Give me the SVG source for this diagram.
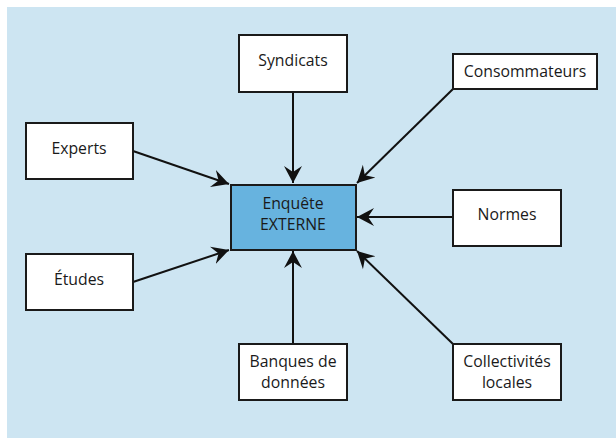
<svg xmlns="http://www.w3.org/2000/svg" width="616" height="439" viewBox="0 0 616 439">
<style>
.box{fill:#ffffff;stroke:#1a1a1a;stroke-width:2}
.main{fill:#67b3df;stroke:#1a1a1a;stroke-width:2}
.lbl{font-family:"Open Sans","Liberation Sans",sans-serif;font-size:15.8px;fill:#1a1a1a;text-anchor:middle}
.edge{stroke:#111;stroke-width:2;fill:none;marker-end:url(#arr)}
</style>
<defs>
<marker id="arr" markerUnits="userSpaceOnUse" viewBox="-17 -10 18 20" refX="0" refY="0" markerWidth="18" markerHeight="20" orient="auto">
<path d="M0,0 L-17,-9 L-11,0 L-17,9 Z" fill="#111"/>
</marker>
</defs>
<rect x="7" y="7" width="609" height="431" fill="#cde5f2"/>
<g id="connectors">
<line class="edge" x1="293" y1="92" x2="293" y2="183"/>
<line class="edge" x1="453" y1="89" x2="357" y2="183"/>
<line class="edge" x1="133" y1="151" x2="229" y2="184"/>
<line class="edge" x1="133" y1="282" x2="229" y2="250"/>
<line class="edge" x1="453" y1="217" x2="357" y2="217"/>
<line class="edge" x1="453" y1="344" x2="357" y2="251"/>
<line class="edge" x1="293" y1="344" x2="293" y2="251"/>
</g>
<g id="enquete">
<rect class="main" x="231" y="185" width="125" height="65"/>
<text class="lbl" x="293" y="209">Enquête</text>
<text class="lbl" x="293" y="230">EXTERNE</text>
</g>
<g id="syndicats">
<rect class="box" x="239" y="35" width="108" height="57"/>
<text class="lbl" x="293" y="66">Syndicats</text>
</g>
<g id="consommateurs">
<rect class="box" x="453" y="54" width="144" height="35"/>
<text class="lbl" x="525" y="77">Consommateurs</text>
</g>
<g id="experts">
<rect class="box" x="26" y="123" width="107" height="56"/>
<text class="lbl" x="79" y="154">Experts</text>
</g>
<g id="normes">
<rect class="box" x="453" y="190" width="108" height="56"/>
<text class="lbl" x="507" y="220">Normes</text>
</g>
<g id="etudes">
<rect class="box" x="26" y="254" width="107" height="56"/>
<text class="lbl" x="79" y="285">Études</text>
</g>
<g id="banques">
<rect class="box" x="239" y="344" width="108" height="56"/>
<text class="lbl" x="293" y="367">Banques de</text>
<text class="lbl" x="293" y="388">données</text>
</g>
<g id="collectivites">
<rect class="box" x="453" y="344" width="108" height="56"/>
<text class="lbl" x="507" y="367">Collectivités</text>
<text class="lbl" x="507" y="388">locales</text>
</g>
</svg>
